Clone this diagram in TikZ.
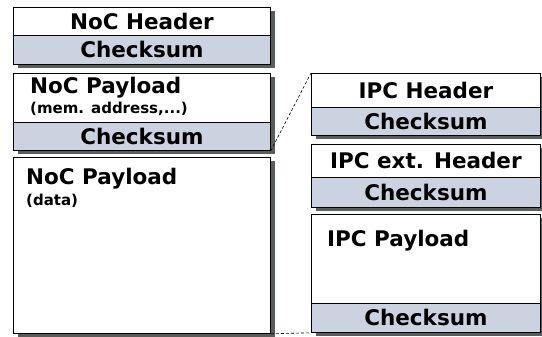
\documentclass[tikz,border=0pt]{standalone}
\usepackage{fontspec}
\setmainfont{DejaVu Sans}
\definecolor{sumfill}{HTML}{CCD3E0}
\definecolor{shadowgray}{RGB}{90,94,90}
\begin{document}
\begin{tikzpicture}[x=1pt,y=-1pt,
  field/.style={draw=black, line width=0.8pt, fill=white, inner sep=0pt,
    anchor=north west, font=\bfseries\fontsize{21.5}{23}\selectfont},
  sumfield/.style={field, fill=sumfill},
  lwide/.style={minimum width=257},
  rwide/.style={minimum width=229},
  title/.style={inner sep=0pt, anchor=base west, font=\bfseries\fontsize{21.5}{23}\selectfont},
  note/.style={inner sep=0pt, anchor=base west, font=\bfseries\fontsize{15}{17}\selectfont},
  link/.style={draw=black, line width=0.6pt, dash pattern=on 3pt off 2pt}]
\fill[white] (0,0) rectangle (542,337);
\useasboundingbox (0,0) rectangle (542,337);

% drop shadows, offset down and to the right of each block
\fill[shadowgray] (18,11) -- (275,11) -- (275,68) -- (18,68) -- cycle;
\fill[shadowgray] (18,77) -- (275,77) -- (275,154) -- (18,154) -- cycle;
\fill[shadowgray] (18,161) -- (275,161) -- (275,337) -- (18,337) -- cycle;
\fill[shadowgray] (316,77) -- (545,77) -- (545,139) -- (316,139) -- cycle;
\fill[shadowgray] (316,148) -- (545,148) -- (545,211) -- (316,211) -- cycle;
\fill[shadowgray] (316,218) -- (545,218) -- (545,336) -- (316,336) -- cycle;

% NoC packet, left column
\node[field, lwide, minimum height=28] (nh) at (13,7) {NoC Header};
\node[sumfield, lwide, minimum height=29] (nhs) at (13,35) {Checksum};

\node[field, lwide, minimum height=49] (npa) at (13,73) {};
\node[sumfield, lwide, minimum height=28] (npas) at (13,122) {Checksum};
\node[title] (npat) at (30,94) {NoC Payload};
\node[note] (npan) at (30,114) {(mem. address,...)};

\node[field, lwide, minimum height=176] (npd) at (13,157) {};
\node[title] (npdt) at (26,185) {NoC Payload};
\node[note] (npdn) at (26,205) {(data)};

% IPC packet, right column
\node[field, rwide, minimum height=34] (ih) at (311,73) {IPC Header};
\node[sumfield, rwide, minimum height=28] (ihs) at (311,107) {Checksum};

\node[field, rwide, minimum height=33] (ie) at (311,144) {IPC ext. Header};
\node[sumfield, rwide, minimum height=30] (ies) at (311,177) {Checksum};

\node[field, rwide, minimum height=89] (ip) at (311,214) {};
\node[sumfield, rwide, minimum height=29] (ips) at (311,303) {Checksum};
\node[title] (ipt) at (327,247) {IPC Payload};

% the data payload expands into the IPC packet
\draw[link] (npas.south east) -- (ih.north west);
\draw[link] (npd.south east) -- (ips.south west);
\end{tikzpicture}
\end{document}
